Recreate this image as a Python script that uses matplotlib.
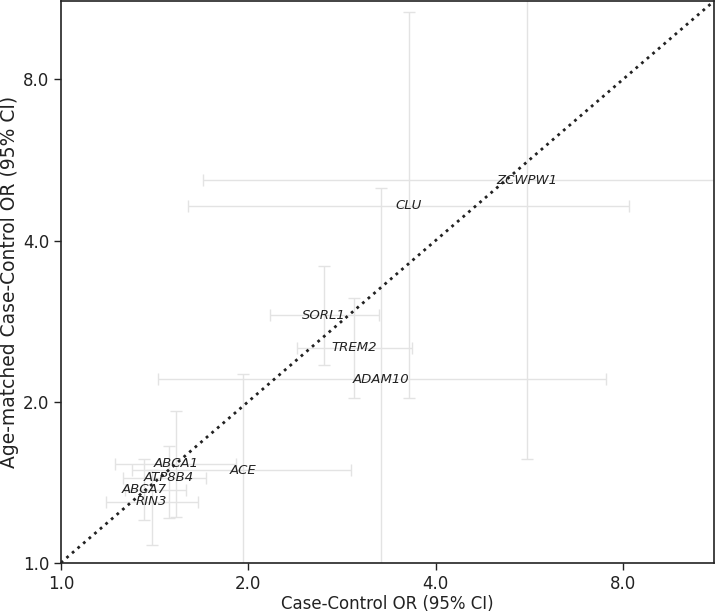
import numpy as np
import matplotlib
matplotlib.use('Agg')
import matplotlib.pyplot as plt

# odds ratios (case-control vs age-matched case-control)
genes = ['ZCWPW1', 'CLU', 'SORL1', 'TREM2', 'ADAM10', 'ACE',
         'ABCA1', 'ATP8B4', 'ABCA7', 'RIN3']
or_cc = np.array([5.60, 3.62, 2.65, 2.96, 3.27, 1.96, 1.53, 1.49, 1.36, 1.40])
cc_lo = np.array([1.69, 1.60, 2.17, 2.40, 1.43, 1.30, 1.22, 1.26, 1.27, 1.18])
cc_hi = np.array([14.0, 8.18, 3.24, 3.66, 7.51, 2.93, 1.91, 1.71, 1.59, 1.66])
or_age = np.array([5.18, 4.65, 2.90, 2.52, 2.20, 1.49, 1.53, 1.44, 1.37, 1.30])
age_lo = np.array([1.56, 2.03, 2.34, 2.03, 0.90, 0.85, 1.22, 1.21, 1.20, 1.08])
age_hi = np.array([17.0, 10.7, 3.58, 3.13, 5.02, 2.25, 1.92, 1.65, 1.56, 1.49])

ticks = [1.0, 2.0, 4.0, 8.0]
lim = (1.0, 11.2)

fig, ax = plt.subplots(figsize=(7.16, 6.13), dpi=100)
fig.subplots_adjust(left=0.085, right=0.997, top=0.998, bottom=0.082)

ax.errorbar(or_cc, or_age,
            xerr=[or_cc - cc_lo, cc_hi - or_cc],
            yerr=[or_age - age_lo, age_hi - or_age],
            fmt='none', ecolor='#e3e3e3', elinewidth=1, capsize=4.5, zorder=1)

ax.plot(lim, lim, ':', color='#222222', linewidth=2, zorder=2)

for g, x, y in zip(genes, or_cc, or_age):
    ax.text(x, y, g, ha='center', va='center', style='italic',
            fontsize=9.5, color='#222222', zorder=3)

ax.set_xscale('log', base=2)
ax.set_yscale('log', base=2)
ax.set_xlim(lim)
ax.set_ylim(lim)
ax.set_xticks(ticks)
ax.set_yticks(ticks)
ax.set_xticklabels(['%.1f' % t for t in ticks])
ax.set_yticklabels(['%.1f' % t for t in ticks])
ax.minorticks_off()
ax.tick_params(labelsize=12, length=5, width=1, colors='#222222')
for s in ax.spines.values():
    s.set_linewidth(1.2)
    s.set_color('#222222')

ax.set_xlabel('Case-Control OR (95% CI)', fontsize=12, color='#222222', labelpad=2)
ax.set_ylabel('Age-matched Case-Control OR (95% CI)', fontsize=13.5, color='#222222',
              labelpad=3)

plt.savefig('out.png', dpi=100)
